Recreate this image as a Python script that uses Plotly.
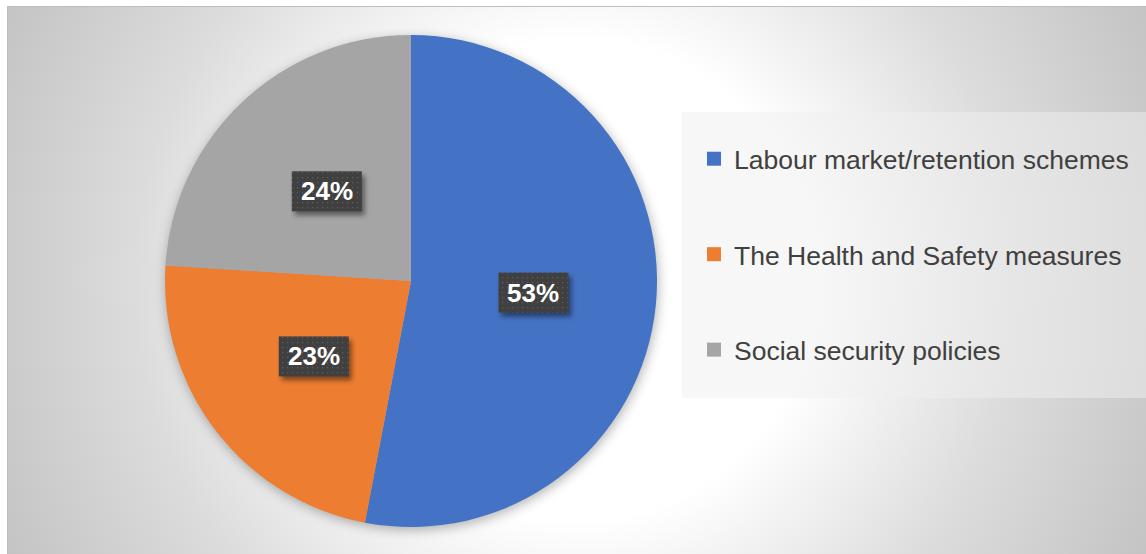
import base64
import math

import plotly.graph_objects as go

# ---- data ----
categories = [
    "Labour market/retention schemes",
    "The Health and Safety measures",
    "Social security policies",
]
shares = [53, 23, 24]
slice_colors = ["#4472C4", "#ED7D31", "#A5A5A5"]

# ---- canvas / layout geometry (pixels) ----
W, H = 1146, 554
PIE_CX, PIE_CY, PIE_R = 411, 281, 246
LABEL_FRAC = 0.5          # data labels sit at half the radius
BOX_W, BOX_H = 70, 40     # data label box size
FONT = "Liberation Sans, Arial, sans-serif"


def fx(x):
    return x / W


def fy(y):
    return 1 - y / H


def svg_uri(svg):
    return "data:image/svg+xml;base64," + base64.b64encode(svg.encode()).decode()


# label anchor points from the cumulative slice angles (clockwise from 12 o'clock)
total = sum(shares)
label_pts = []
acc = 0
for v in shares:
    mid = (acc + v / 2) / total * 2 * math.pi
    acc += v
    label_pts.append((PIE_CX + LABEL_FRAC * PIE_R * math.sin(mid),
                      PIE_CY - LABEL_FRAC * PIE_R * math.cos(mid)))

# chart-area background: radial gradient + soft shadow under the pie
bg_svg = f'''<svg xmlns="http://www.w3.org/2000/svg" width="{W}" height="{H}" viewBox="0 0 {W} {H}" preserveAspectRatio="none">
<defs>
<radialGradient id="g" gradientUnits="userSpaceOnUse" cx="576" cy="280" r="630">
<stop offset="0" stop-color="#ffffff"/>
<stop offset="0.38" stop-color="#ffffff"/>
<stop offset="0.7" stop-color="#dcdcdc"/>
<stop offset="1" stop-color="#c4c4c4"/>
</radialGradient>
<filter id="b" x="-20%" y="-20%" width="140%" height="140%"><feGaussianBlur stdDeviation="6"/></filter>
</defs>
<rect x="7.5" y="6.5" width="{W - 7}" height="{H - 6}" fill="url(#g)" stroke="#bdbdbd" stroke-width="1"/>
<circle cx="{PIE_CX + 1}" cy="{PIE_CY + 3}" r="{PIE_R}" fill="#000" fill-opacity="0.3" filter="url(#b)"/>
</svg>'''

# dotted dark boxes (with drop shadow) behind the percentage labels
box_parts = []
for lx, ly in label_pts:
    x0, y0 = lx - BOX_W / 2, ly - BOX_H / 2
    box_parts.append(
        f'<rect x="{x0 + 3:.1f}" y="{y0 + 4:.1f}" width="{BOX_W}" height="{BOX_H}" '
        f'fill="#000" fill-opacity="0.45" filter="url(#s)"/>')
    box_parts.append(
        f'<rect x="{x0:.1f}" y="{y0:.1f}" width="{BOX_W}" height="{BOX_H}" fill="url(#p)"/>')
box_svg = f'''<svg xmlns="http://www.w3.org/2000/svg" width="{W}" height="{H}" viewBox="0 0 {W} {H}" preserveAspectRatio="none">
<defs>
<pattern id="p" width="5" height="5" patternUnits="userSpaceOnUse">
<rect width="5" height="5" fill="#404040"/><rect x="2" y="2" width="1.2" height="1.2" fill="#5e5e5e"/>
</pattern>
<filter id="s" x="-30%" y="-30%" width="160%" height="160%"><feGaussianBlur stdDeviation="2.5"/></filter>
</defs>
{''.join(box_parts)}
</svg>'''

fig = go.Figure()

fig.add_trace(go.Pie(
    labels=categories,
    values=shares,
    sort=False,
    direction="clockwise",
    rotation=0,
    marker=dict(colors=slice_colors, line=dict(width=0)),
    textinfo="none",
    hoverinfo="label+percent",
    showlegend=False,
    domain=dict(x=[fx(PIE_CX - PIE_R), fx(PIE_CX + PIE_R)],
                y=[fy(PIE_CY + PIE_R), fy(PIE_CY - PIE_R)]),
))

# legend entries (square swatches), one group per category for the row spacing
for name, col in zip(categories, slice_colors):
    fig.add_trace(go.Scatter(
        x=[None], y=[None], mode="markers", name=name, legendgroup=name,
        marker=dict(symbol="square", size=14, color=col, line=dict(width=0)),
        hoverinfo="skip",
    ))

annotations = [
    dict(x=fx(lx), y=fy(ly), xref="paper", yref="paper", showarrow=False,
         text=f"<b>{v}%</b>", font=dict(family=FONT, size=26, color="#ffffff"),
         xanchor="center", yanchor="middle")
    for (lx, ly), v in zip(label_pts, shares)
]

fig.update_layout(
    width=W, height=H,
    margin=dict(l=0, r=0, t=0, b=0),
    paper_bgcolor="#ffffff",
    plot_bgcolor="rgba(0,0,0,0)",
    xaxis=dict(visible=False), yaxis=dict(visible=False),
    images=[
        dict(source=svg_uri(bg_svg), xref="paper", yref="paper", x=0, y=1,
             sizex=1, sizey=1, xanchor="left", yanchor="top",
             sizing="stretch", layer="below"),
        dict(source=svg_uri(box_svg), xref="paper", yref="paper", x=0, y=1,
             sizex=1, sizey=1, xanchor="left", yanchor="top",
             sizing="stretch", layer="above"),
    ],
    shapes=[dict(type="rect", xref="paper", yref="paper",
                 x0=fx(682), x1=1, y0=fy(398), y1=fy(112),
                 fillcolor="rgba(239,239,239,0.5)", line=dict(width=0),
                 layer="below")],
    annotations=annotations,
    legend=dict(
        x=fx(694), y=fy(254.5), xanchor="left", yanchor="middle",
        bgcolor="rgba(0,0,0,0)", borderwidth=0,
        font=dict(family=FONT, size=26.5, color="#404040"),
        tracegroupgap=58, itemclick=False, itemdoubleclick=False,
    ),
    showlegend=True,
)

fig.write_html("out.html", config={"displayModeBar": False})
